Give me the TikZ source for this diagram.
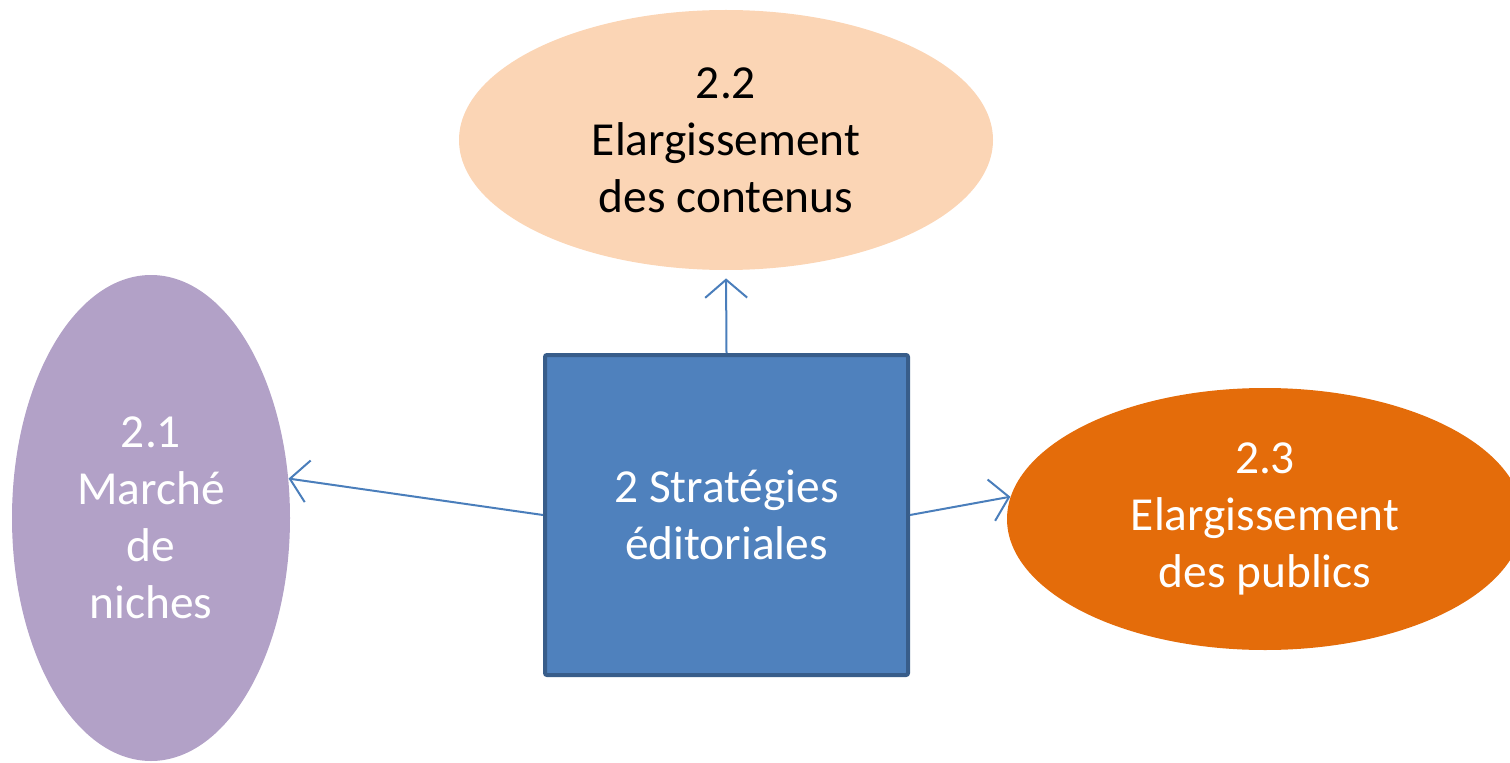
\documentclass[tikz,border=0pt]{standalone}
\usepackage{fontspec}
\setmainfont{Carlito}
\usetikzlibrary{shapes.geometric, arrows.meta}

\definecolor{peach}{HTML}{FBD5B5}
\definecolor{lilac}{HTML}{B2A1C7}
\definecolor{pumpkin}{HTML}{E46C0A}
\definecolor{boxblue}{HTML}{4F81BD}
\definecolor{boxedge}{HTML}{385D8A}
\definecolor{linkblue}{HTML}{4A7EBB}

\begin{document}
\begin{tikzpicture}[x=0.5pt, y=0.5pt]
    \tikzstyle{bubble}=[ellipse, inner sep=0pt, align=center, font=\fontsize{23.7}{28.5}\selectfont]
    \tikzstyle{core}=[rectangle, draw=boxedge, fill=boxblue, line width=2pt, rounded corners=1pt, text=white, align=center, font=\fontsize{23.7}{28.5}\selectfont, minimum width=181.5pt, minimum height=160pt]
    \tikzstyle{link}=[draw=linkblue, line width=1pt, -{Straight Barb[length=9pt, width=21pt, line width=1pt]}]

    \useasboundingbox (0,0) rectangle (1510,762);

    % Central box and the three strategies around it
    \node[core] (strat) at (726.5, 247) {2 Stratégies\\éditoriales};
    \node[bubble, fill=peach, minimum width=267pt, minimum height=130pt] (contenus) at (726, 622) {2.2\\Elargissement\\des contenus};
    \node[bubble, fill=lilac, text=white, minimum width=139pt, minimum height=243pt] (niches) at (151, 244) {2.1\\Marché\\de\\niches};
    \node[bubble, fill=pumpkin, text=white, minimum width=258pt, minimum height=131pt] (publics) at (1265, 243) {2.3\\Elargissement\\des publics};

    % Arrows
    \path
      (strat.north) edge[link, shorten >=4pt] (contenus.south)
      (strat.west) edge[link] (niches.16)
      (strat.east) edge[link] (publics.175);
\end{tikzpicture}
\end{document}
